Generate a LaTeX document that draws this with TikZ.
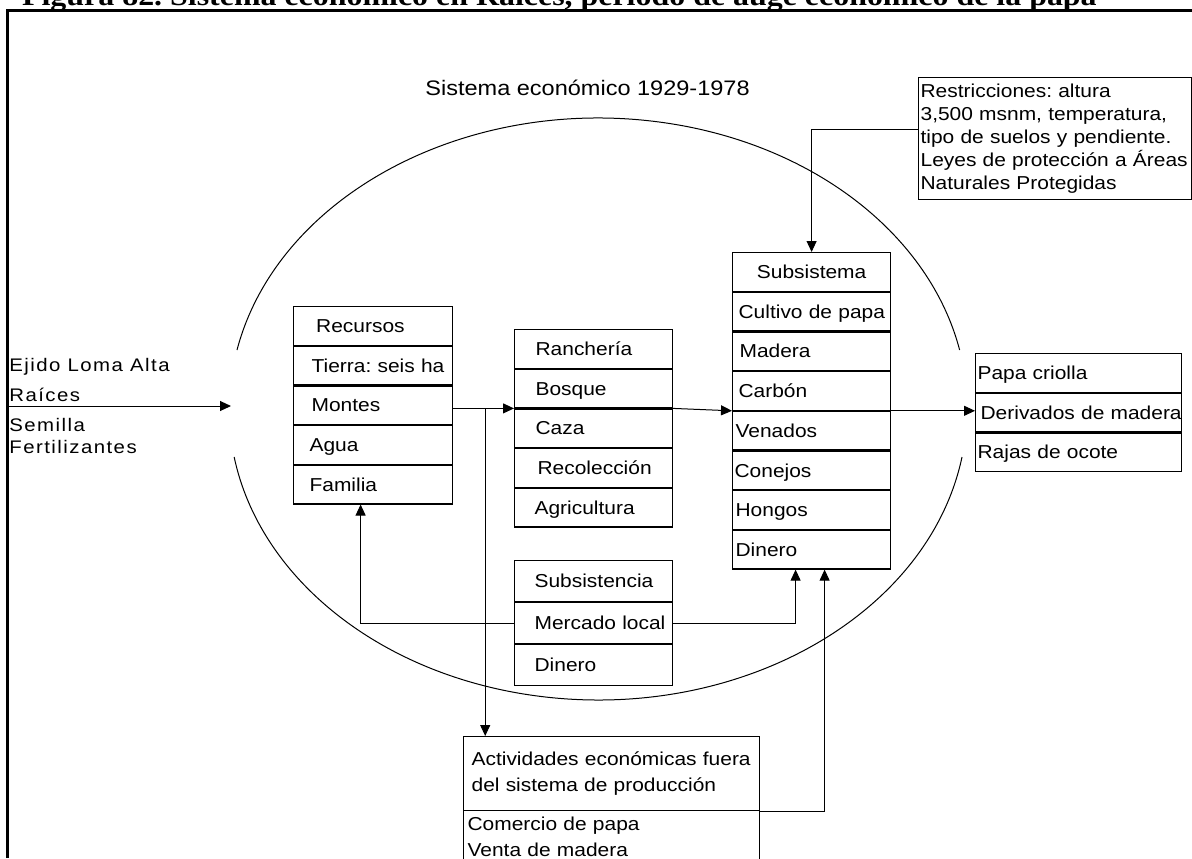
\documentclass[tikz,border=0pt]{standalone}
\usepackage{fontspec}
\usetikzlibrary{arrows.meta,positioning}
\newfontfamily\arialx{Liberation Sans}[FakeStretch=1.12]
\newfontfamily\arialsp{Liberation Sans}[FakeStretch=1.12,LetterSpace=8]
\newfontfamily\timesx{Liberation Serif}[FakeStretch=1.12]
\newcommand\cajafont{\arialx\fontsize{9.35pt}{11.4pt}\selectfont}
\newcommand\actfont{\arialx\fontsize{9.35pt}{13pt}\selectfont}
\newcommand\ejidofont{\arialsp\fontsize{9.1pt}{10pt}\selectfont}
\frenchspacing

\begin{document}
\begin{tikzpicture}[x=0.5pt, y=-0.5pt,
  fila/.style={rectangle, draw, line width=0.6pt, inner xsep=1pt, inner ysep=0pt,
               minimum height=19.25pt, text height=6.7pt, text depth=0pt, align=left,
               font=\cajafont, execute at begin node={\hspace*{#1}}},
  fila/.default=0pt,
  recurso/.style={fila=#1, text width=77.5pt}, recurso/.default=8pt,
  rancho/.style={fila=#1, text width=77pt}, rancho/.default=9.5pt,
  subsis/.style={fila=#1, text width=77pt}, subsis/.default=0.5pt,
  subsist/.style={fila=#1, text width=77pt, minimum height=20.4pt}, subsist/.default=9pt,
  salida/.style={fila=#1, text width=101pt}, salida/.default=0pt,
  caja/.style={rectangle, draw, line width=0.6pt, align=left, font=\cajafont},
  rotulo/.style={anchor=base west, inner sep=0pt},
  linea/.style={line width=0.5pt},
  flecha/.style={linea, -{Triangle[length=5.5pt,width=5pt]}}]
\useasboundingbox (0,0) rectangle (1192,858);

% titulo y marco
\node[rotulo, font=\timesx\bfseries\fontsize{14.25pt}{16pt}\selectfont] (tit) at (21.7,5.5)
  {Figura 82. Sistema económico en Raíces, periodo de auge económico de la papa};
\draw[line width=1.15pt] (7.5,858) -- (7.5,10.5) -- (1192,10.5);
\node[rotulo, font=\arialx\fontsize{10.5pt}{12pt}\selectfont] (tsis) at (425,95) {Sistema económico 1929-1978};

% sistema
\draw[linea] (237,350) arc[start angle=191.7, end angle=348.3, x radius=369, y radius=291];
\draw[linea] (962,457) arc[start angle=9.5, end angle=170.5, x radius=369, y radius=291];

% entradas
\node[rotulo, font=\ejidofont] (ej1) at (9,371.7) {Ejido Loma Alta};
\node[rotulo, font=\ejidofont] (ej2) at (9,401.7) {Raíces};
\node[rotulo, font=\ejidofont] (ej3) at (9,431) {Semilla};
\node[rotulo, font=\ejidofont] (ej4) at (9,453.3) {Fertilizantes};
\coordinate (ent) at (8,406);
\coordinate (eli) at (231,406);

% recursos
\node[recurso=10.3pt, anchor=north west] (rec) at (293,306) {Recursos};
\node[recurso, below=0pt of rec] (tie) {Tierra: seis ha};
\node[recurso, below=0pt of tie] (mon) {Montes};
\node[recurso=7pt, below=0pt of mon] (agu) {Agua};
\node[recurso=7pt, below=0pt of agu] (fam) {Familia};

% rancheria
\node[rancho, anchor=north west] (ran) at (514,329) {Ranchería};
\node[rancho, below=0pt of ran] (bos) {Bosque};
\node[rancho, below=0pt of bos] (caz) {Caza};
\node[rancho=10.5pt, below=0pt of caz] (rco) {Recolección};
\node[rancho=9pt, below=0pt of rco] (agr) {Agricultura};

% subsistema
\node[subsis=0pt, align=center, anchor=north west] (sub) at (732,252) {Subsistema};
\node[subsis=2pt, below=0pt of sub] (cul) {Cultivo de papa};
\node[subsis=2.5pt, below=0pt of cul] (mad) {Madera};
\node[subsis=2pt, below=0pt of mad] (car) {Carbón};
\node[subsis, below=0pt of car] (ven) {Venados};
\node[subsis=0pt, below=0pt of ven] (con) {Conejos};
\node[subsis, below=0pt of con] (hon) {Hongos};
\node[subsis, below=0pt of hon] (din) {Dinero};

% subsistencia
\node[subsist, anchor=north west] (sus) at (514,560) {Subsistencia};
\node[subsist, below=0pt of sus] (mer) {Mercado local};
\node[subsist, below=0pt of mer] (dnr) {Dinero};

% salidas
\node[salida, anchor=north west] (pap) at (975,353) {Papa criolla};
\node[salida=1.5pt, below=0pt of pap] (der) {\mbox{Derivados de madera}};
\node[salida, below=0pt of der] (raj) {Rajas de ocote};

% restricciones y actividades
\node[caja, anchor=north west, text width=134.5pt, inner xsep=1pt, minimum height=60pt] (res) at (918,77)
  {Restricciones: altura\\3,500 msnm, temperatura,\\tipo de suelos y pendiente.\\Leyes de protección a Áreas\\Naturales Protegidas};
\node[caja, anchor=north west, font=\actfont, text width=140pt, inner xsep=4pt, minimum height=37pt] (act) at (463,736)
  {Actividades económicas fuera\\del sistema de producción};
\node[caja, anchor=north west, font=\actfont, text width=144pt, inner xsep=2pt, inner ysep=3.4pt] (com) at (463,810)
  {Comercio de papa\\Venta de madera};

% flujos
\path (mon.east |- bos.south) ++(32,0) coordinate (cruce);
\draw[flecha] (ent) -- (eli);
\draw[flecha] (mon.east |- bos.south) -- (bos.south west);
\draw[flecha] (cruce) -- (cruce |- act.north);
\draw[flecha] (bos.south east) -- (car.south west);
\draw[flecha] (car.south east) -- (car.south east -| pap.west);
\draw[flecha] ([yshift=4.5pt]res.west) -| (sub.north);
\draw[flecha] (mer.west) -| ([xshift=-6.25pt]fam.south);
\draw[flecha] (mer.east) -| ([xshift=-8pt]din.south);
\draw[flecha] (act.south east) -| ([xshift=6.5pt]din.south);
\end{tikzpicture}
\end{document}
